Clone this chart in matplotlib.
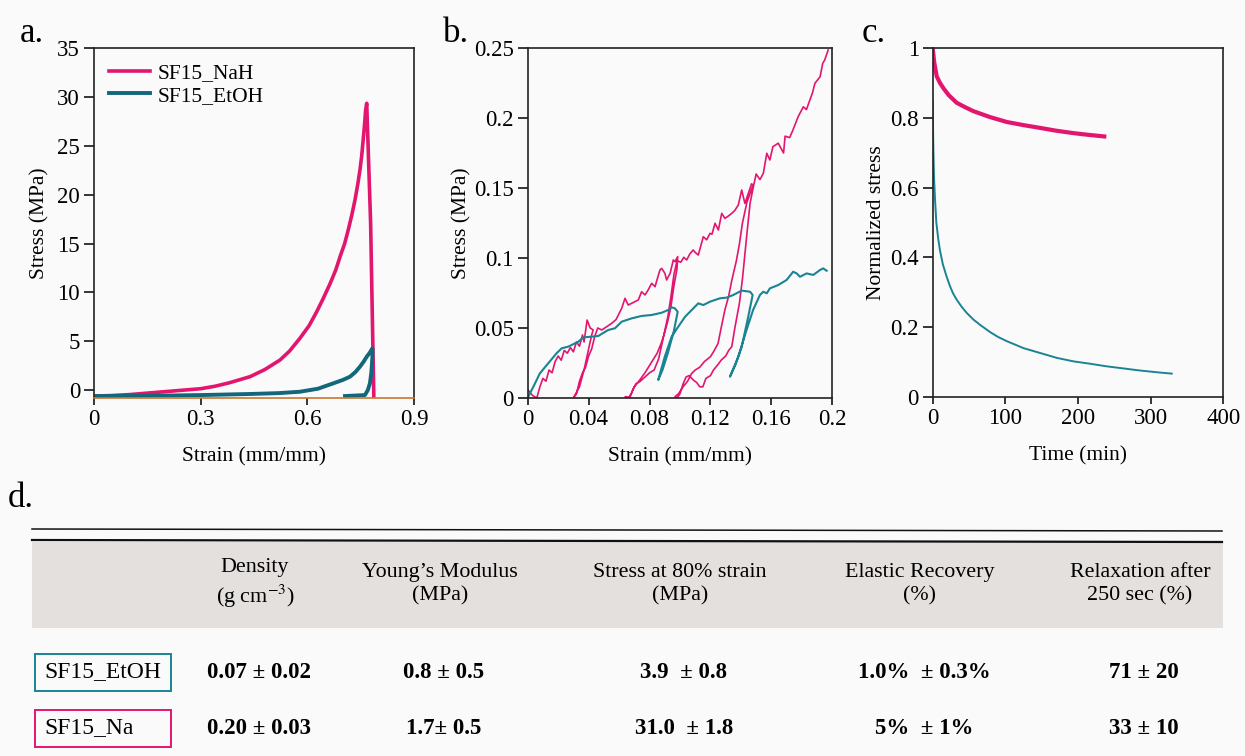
import numpy as np
import matplotlib
matplotlib.use("Agg")
import matplotlib.pyplot as plt
from matplotlib.patches import Rectangle
from matplotlib.lines import Line2D

plt.rcParams['font.family'] = ['Liberation Serif', 'DejaVu Serif']
plt.rcParams['mathtext.fontset'] = 'stix'

PINK = "#e2166f"
TEAL_A = "#12677b"
TEAL = "#1a8494"
BG = "#fafafa"

# --------------------------------------------------
# a. compression curves
# --------------------------------------------------
a_nah_strain = [0, 0.05, 0.10, 0.15, 0.20, 0.25, 0.30, 0.34, 0.38, 0.4387, 0.48, 0.523, 0.55,
                0.579, 0.605, 0.626, 0.645, 0.664, 0.68, 0.692, 0.705, 0.715, 0.725, 0.734,
                0.742, 0.748, 0.753, 0.757, 0.761, 0.764, 0.767, 0.778, 0.787]
a_nah_stress = [-0.6, -0.55, -0.45, -0.3, -0.15, 0.0, 0.15, 0.4, 0.75, 1.38, 2.1, 3.08, 4.0,
                5.3, 6.6, 8.0, 9.4, 10.9, 12.3, 13.65, 15.0, 16.38, 17.9, 19.45,
                21.1, 22.52, 24.0, 25.59, 27.2, 28.66, 29.34, 17.07, -0.7]
a_etoh_strain = [0, 0.1, 0.2, 0.3, 0.4387, 0.52, 0.579, 0.63, 0.673, 0.70, 0.72, 0.735, 0.748,
                 0.758, 0.767, 0.776, 0.783, 0.783, 0.780, 0.776, 0.770, 0.762, 0.706]
a_etoh_stress = [-0.6, -0.58, -0.55, -0.5, -0.39, -0.3, -0.16, 0.15, 0.7, 1.05, 1.38, 1.85, 2.4,
                 2.9, 3.42, 3.85, 4.28, 3.4, 1.8, 0.7, 0.0, -0.5, -0.6]
a_xticks = [0, 0.3, 0.6, 0.9]
a_xlabels = ["0", "0.3", "0.6", "0.9"]
a_yticks = [0, 5, 10, 15, 20, 25, 30, 35]

# --------------------------------------------------
# b. cyclic loading
# --------------------------------------------------
b_nah_strain = [
    0.000, 0.003, 0.006, 0.008, 0.010, 0.012, 0.014, 0.016, 0.018, 0.020, 0.022, 0.024,
    0.026, 0.028, 0.030, 0.032, 0.034, 0.036, 0.037, 0.039, 0.041, 0.043,
    0.042, 0.040, 0.037, 0.034, 0.031, 0.030,
    0.032, 0.034, 0.036, 0.038, 0.040, 0.042, 0.044, 0.046, 0.0486,
    0.052, 0.0551, 0.058, 0.0617, 0.0639, 0.066, 0.069, 0.0726, 0.0748, 0.077, 0.079,
    0.0814, 0.0836, 0.0868, 0.088, 0.0901, 0.0912, 0.0935, 0.0956, 0.0967, 0.0985,
    0.098, 0.096, 0.094, 0.092, 0.090, 0.088, 0.085, 0.081, 0.077, 0.073, 0.070, 0.068,
    0.066, 0.064,
    0.067, 0.069, 0.071, 0.074, 0.077, 0.080, 0.083, 0.086, 0.088, 0.090, 0.092, 0.094,
    0.096, 0.098,
    0.1005, 0.1025, 0.1044, 0.1065, 0.1087, 0.110, 0.112, 0.1153, 0.1175, 0.1197, 0.121,
    0.123, 0.1252, 0.1274, 0.1295, 0.1318, 0.134, 0.136, 0.1383, 0.1405, 0.1426, 0.1448,
    0.147, 0.148,
    0.144, 0.141, 0.139, 0.137, 0.134, 0.132, 0.1295, 0.127, 0.125, 0.122, 0.120, 0.116,
    0.113, 0.110, 0.1077, 0.105, 0.102, 0.099, 0.0967,
    0.098, 0.100, 0.102, 0.104, 0.106, 0.1087, 0.111, 0.113, 0.115, 0.117, 0.120, 0.122,
    0.125, 0.127, 0.130, 0.132, 0.134, 0.136, 0.139, 0.141, 0.1426, 0.144, 0.146, 0.148,
    0.150, 0.1525, 0.1547, 0.157, 0.159, 0.161, 0.1645, 0.168, 0.169, 0.172, 0.174,
    0.1776, 0.181, 0.183, 0.1853, 0.187, 0.1886, 0.192, 0.1937, 0.195, 0.1973]
b_nah_stress = [
    0.006, 0.002, 0.000, 0.008, 0.014, 0.012, 0.020, 0.018, 0.026, 0.030, 0.027, 0.034,
    0.032, 0.036, 0.033, 0.040, 0.037, 0.045, 0.040, 0.0557, 0.050, 0.0486,
    0.045, 0.035, 0.020, 0.008, 0.002, 0.000,
    0.003, 0.012, 0.018, 0.022, 0.030, 0.035, 0.044, 0.050, 0.0486,
    0.051, 0.0533, 0.056, 0.064, 0.0712, 0.0664, 0.068, 0.070, 0.0759, 0.0736, 0.077,
    0.0819, 0.0795, 0.0914, 0.0926, 0.089, 0.0843, 0.089, 0.0986, 0.0974, 0.101,
    0.092, 0.080, 0.065, 0.055, 0.047, 0.040, 0.032, 0.025, 0.018, 0.012, 0.008, 0.003,
    0.000, 0.001,
    0.000, 0.006, 0.010, 0.012, 0.015, 0.018, 0.020, 0.028, 0.038, 0.048, 0.058, 0.072,
    0.088, 0.098,
    0.097, 0.1005, 0.0986, 0.103, 0.1057, 0.104, 0.1021, 0.1152, 0.113, 0.1176, 0.117,
    0.1248, 0.120, 0.1319, 0.1283, 0.130, 0.1319, 0.134, 0.1379, 0.1486, 0.139, 0.146,
    0.153, 0.152,
    0.140, 0.125, 0.110, 0.098, 0.084, 0.073, 0.063, 0.050, 0.039, 0.033, 0.0295, 0.026,
    0.022, 0.020, 0.0176, 0.012, 0.008, 0.003, 0.001,
    0.000, 0.003, 0.010, 0.015, 0.016, 0.0129, 0.011, 0.008, 0.008, 0.014, 0.016, 0.020,
    0.024, 0.027, 0.030, 0.034, 0.0367, 0.050, 0.0676, 0.085, 0.103, 0.118, 0.139, 0.150,
    0.160, 0.156, 0.1605, 0.1748, 0.170, 0.1795, 0.182, 0.175, 0.187, 0.186, 0.191,
    0.201, 0.208, 0.206, 0.213, 0.218, 0.2248, 0.2295, 0.239, 0.2414, 0.2486]

b_etoh_strain = [
    0.0004, 0.0037, 0.008, 0.0135, 0.019, 0.0223, 0.0267, 0.0332, 0.0365, 0.042, 0.0463,
    0.0529, 0.0573, 0.0617, 0.0683, 0.0748, 0.0814, 0.088, 0.0923, 0.0945, 0.0967, 0.0985,
    0.096, 0.092, 0.0885, 0.0857,
    0.090, 0.0945, 0.0989, 0.1033, 0.1098, 0.112, 0.1153, 0.1197, 0.1262, 0.1306, 0.135,
    0.1405, 0.146, 0.1477,
    0.1448, 0.1405, 0.1365, 0.1328,
    0.1383, 0.1437, 0.148, 0.1525, 0.1547, 0.157, 0.159, 0.1645, 0.170, 0.1743, 0.1766,
    0.1788, 0.1831, 0.1875, 0.1919, 0.194, 0.1963]
b_etoh_stress = [
    0.001, 0.008, 0.0176, 0.0248, 0.032, 0.0355, 0.0367, 0.0402, 0.0433, 0.0438, 0.0443,
    0.0486, 0.0498, 0.0545, 0.0569, 0.0586, 0.0593, 0.0609, 0.0629, 0.0648, 0.064, 0.0616,
    0.048, 0.032, 0.020, 0.0129,
    0.0295, 0.0438, 0.051, 0.058, 0.0652, 0.0676, 0.0664, 0.0688, 0.0712, 0.0717, 0.0736,
    0.0767, 0.0759, 0.0736,
    0.058, 0.0366, 0.024, 0.0152,
    0.0295, 0.0486, 0.0629, 0.0736, 0.0759, 0.0748, 0.0783, 0.0807, 0.0843, 0.0902, 0.089,
    0.0866, 0.089, 0.0879, 0.0914, 0.0926, 0.0909]
b_xticks = [0, 0.04, 0.08, 0.12, 0.16, 0.2]
b_xlabels = ["0", "0.04", "0.08", "0.12", "0.16", "0.2"]
b_yticks = [0, 0.05, 0.1, 0.15, 0.2, 0.25]
b_ylabels = ["0", "0.05", "0.1", "0.15", "0.2", "0.25"]

# --------------------------------------------------
# c. stress relaxation
# --------------------------------------------------
c_nah_time = [0, 2, 5.5, 10, 14.7, 22, 33, 45, 56, 79, 102, 125, 148, 170, 194, 215, 239]
c_nah_stress = [1.0, 0.96, 0.919, 0.9, 0.885, 0.865, 0.843, 0.83, 0.819, 0.802, 0.788,
                0.779, 0.771, 0.763, 0.756, 0.751, 0.746]
c_etoh_time = [0, 0.5, 1, 1.8, 3.2, 5, 7.5, 10, 14, 19, 23.9, 28, 33, 40, 46.8, 56, 65,
               79, 90, 102, 125, 148, 171, 194, 216, 239, 262, 285, 308, 329]
c_etoh_stress = [0.85, 0.76, 0.70, 0.63, 0.566, 0.50, 0.455, 0.42, 0.38, 0.346, 0.317,
                 0.297, 0.279, 0.258, 0.241, 0.222, 0.207, 0.186, 0.172, 0.16, 0.14, 0.126,
                 0.112, 0.102, 0.0955, 0.088, 0.082, 0.076, 0.071, 0.067]
c_xticks = [0, 100, 200, 300, 400]
c_yticks = [0, 0.2, 0.4, 0.6, 0.8, 1.0]
c_ylabels = ["0", "0.2", "0.4", "0.6", "0.8", "1"]

# --------------------------------------------------
# d. table
# --------------------------------------------------
headers = ["Density\n(g cm$^{-3}$)", "Young\u2019s Modulus\n(MPa)",
           "Stress at 80% strain\n(MPa)", "Elastic Recovery\n(%)",
           "Relaxation after\n250 sec (%)"]
row_names = ["SF15_EtOH", "SF15_Na"]
row_etoh = ["0.07 \u00b1 0.02", "0.8 \u00b1 0.5", "3.9  \u00b1 0.8", "1.0%  \u00b1 0.3%", "71 \u00b1 20"]
row_na = ["0.20 \u00b1 0.03", "1.7\u00b1 0.5", "31.0  \u00b1 1.8", "5%  \u00b1 1%", "33 \u00b1 10"]

TICK_FS = 16.5
LABEL_FS = 15.5


def style_axis(ax):
    ax.set_facecolor(BG)
    for sp in ax.spines.values():
        sp.set_linewidth(1.2)
        sp.set_color("#222222")
    ax.tick_params(direction="out", length=5, width=1.1, labelsize=TICK_FS, pad=3)
    ax.tick_params(axis="y", length=7)


W, H = 1245, 756
fig = plt.figure(figsize=(W / 100, H / 100), dpi=100, facecolor=BG)

# panel a
ax_a = fig.add_axes([94 / W, 1 - 398 / H, 320 / W, 350 / H])
style_axis(ax_a)
ax_a.plot(a_nah_strain, a_nah_stress, color=PINK, lw=2.6, label="SF15_NaH")
ax_a.plot(a_etoh_strain, a_etoh_stress, color=TEAL_A, lw=2.8, label="SF15_EtOH")
ax_a.set_xlim(0, 0.9)
ax_a.set_ylim(-0.8, 35)
ax_a.spines["bottom"].set_color("#c9782f")
ax_a.set_xticks(a_xticks)
ax_a.set_xticklabels(a_xlabels)
ax_a.set_yticks(a_yticks)
ax_a.set_xlabel("Strain (mm/mm)", fontsize=LABEL_FS, labelpad=12)
ax_a.set_ylabel("Stress (MPa)", fontsize=LABEL_FS, labelpad=6)
ax_a.legend(loc="upper left", frameon=False, fontsize=15.5, handlelength=1.9,
            handletextpad=0.35, labelspacing=0.12, borderaxespad=0.4,
            borderpad=0.3)

# panel b
ax_b = fig.add_axes([527.7 / W, 1 - 398 / H, 304.6 / W, 350 / H])
style_axis(ax_b)
ax_b.plot(b_nah_strain, b_nah_stress, color=PINK, lw=1.2)
ax_b.plot(b_etoh_strain, b_etoh_stress, color=TEAL, lw=1.5)
ax_b.set_xlim(0, 0.2)
ax_b.set_ylim(0, 0.25)
ax_b.set_xticks(b_xticks)
ax_b.set_xticklabels(b_xlabels)
ax_b.set_yticks(b_yticks)
ax_b.set_yticklabels(b_ylabels)
ax_b.set_xlabel("Strain (mm/mm)", fontsize=LABEL_FS, labelpad=12)
ax_b.set_ylabel("Stress (MPa)", fontsize=LABEL_FS, labelpad=2)

# panel c
ax_c = fig.add_axes([932.7 / W, 1 - 397 / H, 290.6 / W, 349 / H])
style_axis(ax_c)
ax_c.plot(c_nah_time, c_nah_stress, color=PINK, lw=3.0, solid_capstyle="butt")
ax_c.plot(c_etoh_time, c_etoh_stress, color=TEAL, lw=1.4)
ax_c.set_xlim(0, 400)
ax_c.set_ylim(0, 1)
ax_c.set_xticks(c_xticks)
ax_c.set_yticks(c_yticks)
ax_c.set_yticklabels(c_ylabels)
ax_c.set_xlabel("Time (min)", fontsize=LABEL_FS, labelpad=12)
ax_c.set_ylabel("Normalized stress", fontsize=LABEL_FS, labelpad=3)

# panel letters
for lx, letter in [(20, "a."), (443, "b."), (862, "c.")]:
    fig.text(lx / W, 1 - 42 / H, letter, fontsize=25, va="baseline", ha="left")
fig.text(8 / W, 1 - 507 / H, "d.", fontsize=25, va="baseline", ha="left")

# table drawn in a pixel-space axes
ax_t = fig.add_axes([0, 0, 1, 1 - 470 / H])
ax_t.set_xlim(0, W)
ax_t.set_ylim(H, 470)
ax_t.axis("off")
ax_t.add_line(Line2D([32, 1222], [529, 531], color="#111111", lw=1.1))
ax_t.add_line(Line2D([32, 1222], [540, 542], color="#111111", lw=1.6))
ax_t.add_patch(Rectangle((32, 542), 1191, 86, facecolor="#e4e0de", edgecolor="none"))

col_x = [255, 440, 680, 920, 1140]
for cx, htxt in zip(col_x, headers):
    ax_t.text(cx, 584, htxt, ha="center", va="center", fontsize=15.8, linespacing=1.3)

row_y = [672, 728]
row_colors = [TEAL, PINK]
for ry, name, col, vals in zip(row_y, row_names, row_colors, [row_etoh, row_na]):
    ax_t.add_patch(Rectangle((35, ry - 18), 136, 37, facecolor="none", edgecolor=col, lw=1.4))
    ax_t.text(44, ry, name, ha="left", va="center", fontsize=17)
    for cx, v in zip(col_x, vals):
        ax_t.text(cx + 4, ry, v, ha="center", va="center", fontsize=16.5, fontweight="bold")

fig.savefig("out.png", dpi=100, facecolor=BG)
